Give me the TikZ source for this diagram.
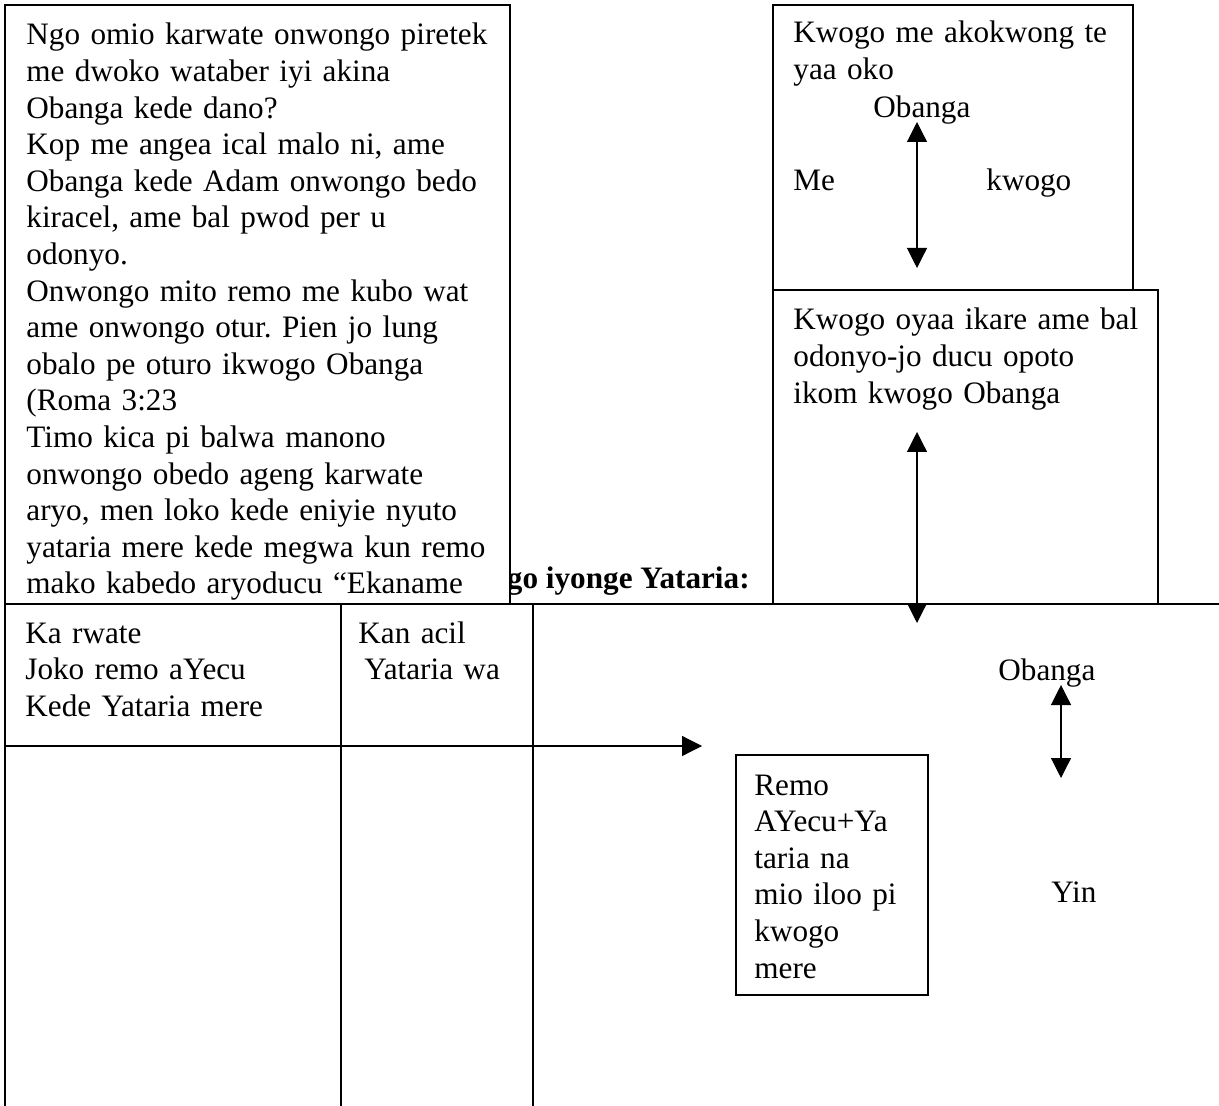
\documentclass[tikz,border=0pt]{standalone}
\usepackage{fontspec}
\setmainfont{Liberation Serif}
\usepackage{tikz}
\usetikzlibrary{arrows.meta}
\frenchspacing

\begin{document}
\begin{tikzpicture}[
  x=0.5pt,y=-0.5pt,
  font=\fontsize{15.6}{18.3}\selectfont,
  frame/.style={draw,line width=0.8pt,fill=white,anchor=north west,inner sep=0pt,outer sep=0pt},
  txt/.style={anchor=base west,inner sep=0pt,text width=260pt,align=left},
  lbl/.style={anchor=base west,inner sep=0pt},
  rule/.style={line width=0.8pt},
  ar/.style={-{Triangle[length=10pt,width=10pt]},line width=0.6pt},
  dar/.style={{Triangle[length=10pt,width=10pt]}-{Triangle[length=10pt,width=10pt]},line width=0.6pt}]
\useasboundingbox (0,0) rectangle (1219,1106);
\node[lbl,anchor=base east,font=\fontsize{15.6}{18.3}\selectfont\bfseries] (head) at (750,588) {go iyonge Yataria:};
\node[frame,minimum width=252.5pt,minimum height=299.5pt] (lbox) at (5,5) {};
\node[txt] (ltext) at (26,45) {Ngo omio karwate onwongo piretek\\
me dwoko wataber iyi akina\\
Obanga kede dano?\\
Kop me angea ical malo ni, ame\\
Obanga kede Adam onwongo bedo\\
kiracel, ame bal pwod per u\\
odonyo.\\
Onwongo mito remo me kubo wat\\
ame onwongo otur. Pien jo lung\\
obalo pe oturo ikwogo Obanga\\
(Roma 3:23\\
Timo kica pi balwa manono\\
onwongo obedo ageng karwate\\
aryo, men loko kede eniyie nyuto\\
yataria mere kede megwa kun remo\\
mako kabedo aryoducu “Ekaname};
\node[frame,minimum width=180pt,minimum height=142.5pt] (kbox) at (773,5) {};
\node[txt] (ktext) at (793,43) {Kwogo me akokwong te\\yaa oko};
\node[lbl] (ob1) at (873,118) {Obanga};
\node[lbl] (me) at (793,191) {Me};
\node[lbl] (kw) at (986,191) {kwogo};
\node[frame,minimum width=192.5pt,minimum height=157pt] (obox) at (773,290) {};
\node[txt] (otext) at (793,330) {Kwogo oyaa ikare ame bal\\odonyo-jo ducu opoto\\ikom kwogo Obanga};
\node[txt] (c1) at (25,643) {Ka rwate\\Joko remo aYecu\\Kede Yataria mere};
\node[txt] (c2) at (358,643) {Kan acil\\\hspace*{3pt}Yataria wa};
\node[lbl] (ob2) at (998,680) {Obanga};
\node[lbl] (yin) at (1051,902) {Yin};
\node[frame,minimum width=96pt,minimum height=120pt] (rbox) at (736,755) {};
\node[txt] (rtext) at (754,795) {Remo\\AYecu+Ya\\taria na\\mio iloo pi\\kwogo\\mere};
\coordinate (ua) at (917,122);
\coordinate (ub) at (917,268);
\coordinate (ma) at (917,432);
\coordinate (mb) at (917,623);
\coordinate (la) at (1061,685);
\coordinate (lb) at (1061,778);
\coordinate (ra) at (5,746);
\coordinate (rb) at (702,746);
\draw[rule] (5,604) -- (1219,604);
\draw[rule] (5,604) -- (5,1106);
\draw[rule] (341,604) -- (341,1106);
\draw[rule] (533,604) -- (533,1106);
\draw[dar] (ua) -- (ub);
\draw[dar] (ma) -- (mb);
\draw[dar] (la) -- (lb);
\draw[ar] (ra) -- (rb);
\end{tikzpicture}
\end{document}
